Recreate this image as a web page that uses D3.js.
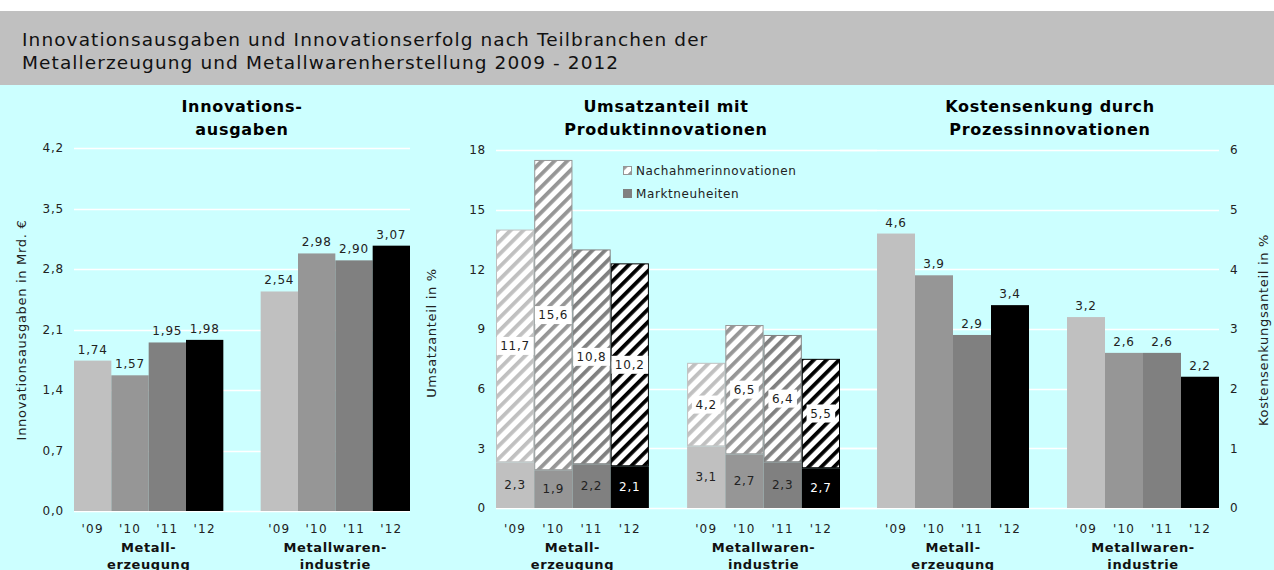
<!DOCTYPE html>
<html>
<head>
<meta charset="utf-8">
<script src="https://cdn.jsdelivr.net/npm/d3@7"></script>
<style>
  html, body { margin: 0; padding: 0; background: #ffffff; }
  svg text { font-family: "DejaVu Sans", Verdana, sans-serif; }
</style>
</head>
<body>
<div id="chart"></div>
<script>
// data
const years = ["'09", "'10", "'11", "'12"];
const groupLines = [["Metall-", "erzeugung"], ["Metallwaren-", "industrie"]];
const yearColors = ["#c0c0c0", "#969696", "#808080", "#000000"];

const ausgaben = [[1.74, 1.57, 1.95, 1.98], [2.54, 2.98, 2.90, 3.07]];
const marktneuheiten = [[2.3, 1.9, 2.2, 2.1], [3.1, 2.7, 2.3, 2.0]];
const marktLabels = [["2,3", "1,9", "2,2", "2,1"], ["3,1", "2,7", "2,3", "2,7"]];
const nachahmer = [[11.7, 15.6, 10.8, 10.2], [4.2, 6.5, 6.4, 5.5]];
const kosten = [[4.6, 3.9, 2.9, 3.4], [3.2, 2.6, 2.6, 2.2]];

const ticksAusgaben = [0, 0.7, 1.4, 2.1, 2.8, 3.5, 4.2];
const ticksUmsatz = [0, 3, 6, 9, 12, 15, 18];
const ticksKosten = [0, 1, 2, 3, 4, 5, 6];

const comma = (f) => (v) => d3.format(f)(v).replace(".", ",");

const W = 1274, H = 570;
const svg = d3.select("#chart").append("svg")
    .attr("width", W).attr("height", H);

// hatch patterns (wide upward diagonal)
const defs = svg.append("defs");
yearColors.forEach((c, i) => {
    const p = defs.append("pattern")
        .attr("id", "hatch" + i)
        .attr("patternUnits", "userSpaceOnUse")
        .attr("width", 9).attr("height", 9)
        .attr("patternTransform", "rotate(45)");
    p.append("rect").attr("width", 9).attr("height", 9).attr("fill", "#ffffff");
    p.append("rect").attr("width", 3.8).attr("height", 9).attr("fill", c);
});

// background
svg.append("rect").attr("x", 0).attr("y", 0).attr("width", W).attr("height", H).attr("fill", "#ffffff");
svg.append("rect").attr("x", 0).attr("y", 11).attr("width", W).attr("height", 74).attr("fill", "#c0c0c0");
svg.append("rect").attr("x", 0).attr("y", 85).attr("width", W).attr("height", H - 85).attr("fill", "#ccffff");

const title = svg.append("text")
    .attr("x", 22).attr("fill", "#111")
    .style("font-size", "18.5px").style("letter-spacing", "1.1px");
title.append("tspan").attr("x", 22).attr("y", 46).text("Innovationsausgaben und Innovationserfolg nach Teilbranchen der");
title.append("tspan").attr("x", 22).attr("y", 69).text("Metallerzeugung und Metallwarenherstellung 2009 - 2012");

function panelTitle(cx, lines) {
    const t = svg.append("text")
        .attr("text-anchor", "middle").attr("fill", "#000")
        .style("font-size", "16px").style("font-weight", "bold")
        .style("letter-spacing", "0.7px");
    lines.forEach((l, i) => t.append("tspan").attr("x", cx).attr("y", 112 + i * 23).text(l));
}

// generic panel
function panel(opts) {
    const g = svg.append("g");
    const y = d3.scaleLinear().domain([0, d3.max(opts.ticks)]).range(opts.yRange);
    const x0 = d3.scaleBand().domain([0, 1]).range(opts.barRange).paddingInner(0.2);
    const x1 = d3.scaleBand().domain(years).range([0, x0.bandwidth()]);

    // gridlines
    g.selectAll(".grid").data(opts.ticks).join("line")
        .attr("x1", opts.gridRange[0]).attr("x2", opts.gridRange[1])
        .attr("y1", d => Math.round(y(d)) + 0.5).attr("y2", d => Math.round(y(d)) + 0.5)
        .attr("stroke", "#ffffff").attr("stroke-width", 1.5);

    // tick labels
    const right = opts.axisSide === "right";
    g.selectAll(".tick").data(opts.ticks).join("text")
        .attr("x", opts.tickX)
        .attr("y", d => y(d))
        .attr("dy", "0.35em")
        .attr("text-anchor", right ? "start" : "end")
        .attr("fill", "#222")
        .style("font-size", "12px").style("letter-spacing", "0.8px")
        .text(opts.tickFormat);

    // y title
    svg.append("text")
        .attr("transform", `translate(${opts.titleX},${opts.titleY}) rotate(-90)`)
        .attr("text-anchor", "middle").attr("fill", "#222")
        .style("font-size", "13px").style("letter-spacing", "0.7px")
        .text(opts.yTitle);

    // category labels
    [0, 1].forEach(gi => {
        years.forEach(yr => {
            g.append("text")
                .attr("x", x0(gi) + x1(yr) + x1.bandwidth() / 2)
                .attr("y", 533)
                .attr("text-anchor", "middle").attr("fill", "#222")
                .style("font-size", "12px").style("letter-spacing", "1.2px")
                .text(yr);
        });
        const t = g.append("text")
            .attr("text-anchor", "middle").attr("fill", "#111")
            .style("font-size", "13px").style("font-weight", "bold")
            .style("letter-spacing", "0.6px");
        groupLines[gi].forEach((l, i) => t.append("tspan")
            .attr("x", x0(gi) + x0.bandwidth() / 2).attr("y", 552 + i * 17).text(l));
    });

    return { g, y, x0, x1 };
}

function simpleBars(p, data, fmt) {
    data.forEach((vals, gi) => {
        vals.forEach((v, i) => {
            const bx = p.x0(gi) + p.x1(years[i]);
            p.g.append("rect")
                .attr("x", bx).attr("y", p.y(v))
                .attr("width", p.x1.bandwidth()).attr("height", p.y(0) - p.y(v))
                .attr("fill", yearColors[i]);
            p.g.append("text")
                .attr("x", bx + p.x1.bandwidth() / 2).attr("y", p.y(v) - 7)
                .attr("text-anchor", "middle").attr("fill", "#222")
                .style("font-size", "12px").style("letter-spacing", "0.8px")
                .text(fmt(v));
        });
    });
}

// Panel 1: Innovationsausgaben
panelTitle(242, ["Innovations-", "ausgaben"]);
const p1 = panel({
    ticks: ticksAusgaben, yRange: [511, 148],
    barRange: [74, 410], gridRange: [74, 410],
    tickX: 64, axisSide: "left", tickFormat: comma(".1f"),
    titleX: 26, titleY: 330, yTitle: "Innovationsausgaben in Mrd. €"
});
simpleBars(p1, ausgaben, comma(".2f"));

// Panel 2: Umsatzanteil mit Produktinnovationen
panelTitle(666, ["Umsatzanteil mit", "Produktinnovationen"]);
const p2 = panel({
    ticks: ticksUmsatz, yRange: [508, 150],
    barRange: [496, 840], gridRange: [496, 877],
    tickX: 486, axisSide: "left", tickFormat: d3.format("d"),
    titleX: 436, titleY: 333, yTitle: "Umsatzanteil in %"
});
[0, 1].forEach(gi => {
    years.forEach((yr, i) => {
        const bx = p2.x0(gi) + p2.x1(yr);
        const bw = p2.x1.bandwidth();
        const m = marktneuheiten[gi][i];
        const n = nachahmer[gi][i];
        // Marktneuheiten (solid)
        p2.g.append("rect")
            .attr("x", bx).attr("y", p2.y(m))
            .attr("width", bw).attr("height", p2.y(0) - p2.y(m))
            .attr("fill", yearColors[i]);
        // Nachahmerinnovationen (hatched)
        p2.g.append("rect")
            .attr("x", bx + 0.5).attr("y", p2.y(m + n) + 0.5)
            .attr("width", bw - 1).attr("height", p2.y(m) - p2.y(m + n) - 1)
            .attr("fill", `url(#hatch${i})`)
            .attr("stroke", yearColors[i]).attr("stroke-width", 1);
        // labels
        p2.g.append("text")
            .attr("x", bx + bw / 2).attr("y", (p2.y(0) + p2.y(m)) / 2)
            .attr("dy", "0.35em")
            .attr("text-anchor", "middle").attr("fill", i === 3 ? "#ffffff" : "#222")
            .style("font-size", "12px").style("letter-spacing", "0.8px")
            .text(marktLabels[gi][i]);
        const lbl = comma(".1f")(n);
        const ly = (p2.y(m) + p2.y(m + n)) / 2;
        const lw = lbl.length * 8.2 + 4;
        p2.g.append("rect")
            .attr("x", bx + bw / 2 - lw / 2).attr("y", ly - 9)
            .attr("width", lw).attr("height", 18)
            .attr("fill", "#ffffff");
        p2.g.append("text")
            .attr("x", bx + bw / 2).attr("y", ly)
            .attr("dy", "0.35em")
            .attr("text-anchor", "middle").attr("fill", "#222")
            .style("font-size", "12px").style("letter-spacing", "0.8px")
            .text(lbl);
    });
});

// legend
const legendItems = ["Nachahmerinnovationen", "Marktneuheiten"];
const leg = svg.append("g").attr("transform", "translate(623,166)");
legendItems.forEach((name, i) => {
    leg.append("rect")
        .attr("x", 0.5).attr("y", i * 23 + 0.5)
        .attr("width", 8).attr("height", 8)
        .attr("fill", i === 0 ? "url(#hatch1)" : "#808080")
        .attr("stroke", i === 0 ? "#969696" : "#808080");
    leg.append("text")
        .attr("x", 13).attr("y", i * 23 + 4.5)
        .attr("dy", "0.35em").attr("fill", "#222")
        .style("font-size", "12px").style("letter-spacing", "0.6px")
        .text(name);
});

// Panel 3: Kostensenkung durch Prozessinnovationen
panelTitle(1050, ["Kostensenkung durch", "Prozessinnovationen"]);
const p3 = panel({
    ticks: ticksKosten, yRange: [508, 150],
    barRange: [877, 1219], gridRange: [840, 1219],
    tickX: 1230, axisSide: "right", tickFormat: d3.format("d"),
    titleX: 1268, titleY: 330, yTitle: "Kostensenkungsanteil in %"
});
simpleBars(p3, kosten, comma(".1f"));
</script>
</body>
</html>
